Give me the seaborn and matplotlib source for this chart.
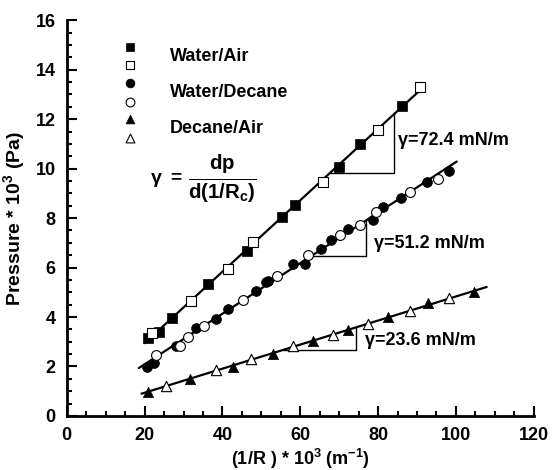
import numpy as np
import pandas as pd
import seaborn as sns
import matplotlib.pyplot as plt
from matplotlib.ticker import MultipleLocator

# data
wa_fill_x = [20.9, 23.6, 27.1, 36.2, 46.4, 55.4, 58.6, 70.0, 75.3, 86.1]
wa_fill_y = [3.14, 3.41, 3.95, 5.33, 6.68, 8.03, 8.54, 10.07, 10.99, 12.53]
wa_open_x = [21.8, 31.9, 41.5, 47.9, 65.9, 80.0, 90.7]
wa_open_y = [3.34, 4.65, 5.94, 7.02, 9.47, 11.58, 13.28]

wd_fill_x = [20.6, 22.4, 28.0, 33.2, 38.3, 41.3, 48.6, 51.1, 51.7, 58.2,
             61.2, 65.2, 68.0, 72.3, 78.6, 81.3, 86.0, 92.5, 98.3]
wd_fill_y = [1.99, 2.13, 2.83, 3.54, 3.93, 4.32, 5.06, 5.43, 5.47, 6.14,
             6.14, 6.73, 7.11, 7.54, 7.92, 8.43, 8.80, 9.47, 9.91]
wd_open_x = [22.8, 29.0, 31.2, 35.2, 45.2, 54.1, 62.0, 70.2, 75.3, 79.4, 88.2, 95.4]
wd_open_y = [2.46, 2.83, 3.20, 3.64, 4.69, 5.66, 6.50, 7.31, 7.72, 8.25, 9.06, 9.60]

da_fill_x = [20.9, 31.6, 42.8, 53.0, 63.3, 72.3, 82.6, 92.9, 104.6]
da_fill_y = [0.98, 1.49, 1.99, 2.51, 3.04, 3.47, 4.01, 4.55, 5.02]
da_open_x = [25.4, 38.3, 47.3, 58.2, 68.5, 77.5, 88.3, 98.3]
da_open_y = [1.23, 1.86, 2.29, 2.84, 3.27, 3.72, 4.25, 4.75]

systems = ['Water/Air', 'Water/Decane', 'Decane/Air']
gammas = ['\u03b3=72.4 mN/m', '\u03b3=51.2 mN/m', '\u03b3=23.6 mN/m']
fit_ranges = [(20.0, 91.4), (18.5, 100.2), (19.2, 107.9)]
# slope triangles: (base y, right x)
tri_base = [(9.83, 84.1), (6.46, 76.8), (2.67, 74.3)]
label_pos = [(85.1, 11.15), (78.9, 6.98), (76.6, 3.07)]

sns.set_style('ticks')
plt.rcParams['font.family'] = ['Liberation Sans', 'DejaVu Sans']
plt.rcParams['font.weight'] = 'bold'
plt.rcParams['text.color'] = 'black'
plt.rcParams['axes.labelcolor'] = 'black'
plt.rcParams['xtick.color'] = 'black'
plt.rcParams['ytick.color'] = 'black'
plt.rcParams['axes.edgecolor'] = 'black'
plt.rcParams['mathtext.fontset'] = 'custom'
plt.rcParams['mathtext.rm'] = 'Liberation Sans:bold'
plt.rcParams['mathtext.bf'] = 'Liberation Sans:bold'
plt.rcParams['mathtext.it'] = 'Liberation Sans:bold'

fig = plt.figure(figsize=(5.52, 4.70), dpi=100)
ax = fig.add_axes([0.121, 0.115, 0.846, 0.842])

series = [
    (wa_fill_x, wa_fill_y, 's', 'black', 0),
    (wa_open_x, wa_open_y, 's', 'white', 0),
    (wd_fill_x, wd_fill_y, 'o', 'black', 1),
    (wd_open_x, wd_open_y, 'o', 'white', 1),
    (da_fill_x, da_fill_y, '^', 'black', 2),
    (da_open_x, da_open_y, '^', 'white', 2),
]

# fitted lines and slope triangles
for i, name in enumerate(systems):
    xs = np.concatenate([series[2 * i][0], series[2 * i + 1][0]])
    ys = np.concatenate([series[2 * i][1], series[2 * i + 1][1]])
    m, b = np.polyfit(xs, ys, 1)
    x0, x1 = fit_ranges[i]
    ax.plot([x0, x1], [m * x0 + b, m * x1 + b], color='black', lw=1.6, zorder=2)
    yb, xr = tri_base[i]
    xl = (yb - b) / m
    ax.plot([xl, xr, xr], [yb, yb, m * xr + b], color='black', lw=1.0, zorder=2)
    ax.text(label_pos[i][0], label_pos[i][1], gammas[i], fontsize=13,
            fontweight='bold', va='center', ha='left')

for x, y, mk, fc, k in series:
    df = pd.DataFrame({'x': x, 'y': y})
    sns.scatterplot(data=df, x='x', y='y', marker=mk, color=fc,
                    edgecolor='black', linewidth=0.8 if fc == 'white' else 0.5,
                    s=55 if mk != 'o' else 50, ax=ax, zorder=3, legend=False)

# hand-made legend: two markers per system, label between them
leg_y = [0.932, 0.886, 0.842, 0.794, 0.750, 0.703]
for j, (x, y, mk, fc, k) in enumerate(series):
    ax.scatter([0.135], [leg_y[j]], marker=mk, c=fc, edgecolors='black',
               linewidths=0.8 if fc == 'white' else 0.5, s=40,
               transform=ax.transAxes, clip_on=False, zorder=3)
for i, name in enumerate(systems):
    ax.text(0.221, (leg_y[2 * i] + leg_y[2 * i + 1]) / 2, name, fontsize=13,
            fontweight='bold', va='center', transform=ax.transAxes)

# surface tension formula
ax.text(21.3, 9.55, r'$\gamma\ =$', fontsize=14, va='center')
ax.text(40.0, 9.6, r'$\frac{\mathbf{dp}}{\mathbf{d(1/R_c)}}$', fontsize=21,
        va='center', ha='center')

ax.set_xlim(0, 120)
ax.set_ylim(0, 16)
ax.xaxis.set_major_locator(MultipleLocator(20))
ax.xaxis.set_minor_locator(MultipleLocator(5))
ax.yaxis.set_major_locator(MultipleLocator(2))
ax.yaxis.set_minor_locator(MultipleLocator(0.5))
ax.tick_params(which='major', direction='in', length=7, width=1.5,
               labelsize=13, pad=8)
ax.tick_params(which='minor', direction='in', length=3.5, width=1.5)
for lab in ax.get_xticklabels() + ax.get_yticklabels():
    lab.set_fontweight('bold')
sns.despine(ax=ax)
for sp in ['left', 'bottom']:
    ax.spines[sp].set_linewidth(2)

ax.set_xlabel(r'(1/R ) * 10$^3$ (m$^{-1}$)', fontsize=13, fontweight='bold',
              labelpad=2)
ax.set_ylabel(r'Pressure * 10$^3$ (Pa)', fontsize=14, fontweight='bold',
              labelpad=6)

fig.savefig('out.png', dpi=100)
